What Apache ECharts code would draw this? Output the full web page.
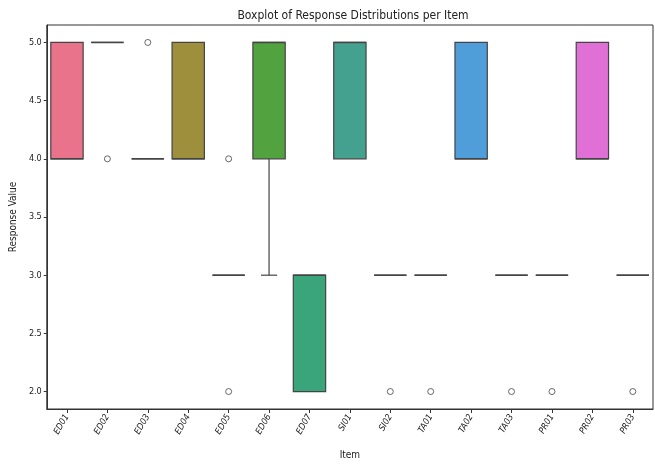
<!DOCTYPE html>
<html>
<head>
<meta charset="utf-8">
<script src="https://cdn.jsdelivr.net/npm/echarts@6/dist/echarts.min.js"></script>
<style>html,body{margin:0;padding:0;background:#fff;}#c{width:655px;height:465px;}</style>
</head>
<body>
<div id="c"></div>
<script>
var categories = ['ED01','ED02','ED03','ED04','ED05','ED06','ED07','SI01','SI02','TA01','TA02','TA03','PR01','PR02','PR03'];
var whiskerLow  = [4, 5, 4, 4, 3, 3, 2, 4, 3, 3, 4, 3, 3, 4, 3];
var q1          = [4, 5, 4, 4, 3, 4, 2, 4, 3, 3, 4, 3, 3, 4, 3];
var median      = [4, 5, 4, 4, 3, 5, 3, 5, 3, 3, 4, 3, 3, 4, 3];
var q3          = [5, 5, 4, 5, 3, 5, 3, 5, 3, 3, 5, 3, 3, 5, 3];
var whiskerHigh = [5, 5, 4, 5, 3, 5, 3, 5, 3, 3, 5, 3, 3, 5, 3];
var outliers = [['ED02',4],['ED03',5],['ED05',4],['ED05',2],['SI02',2],['TA01',2],['TA03',2],['PR01',2],['PR03',2]];
var colors = ['#e8738b','#e07b50','#c98b3f','#9e8f3c','#85993a','#52a33f','#3aa57a','#44a08f','#46a0a5','#48a0bb','#4f9ed9','#8c8ee0','#b283e0','#e070d6','#e472b0'];
var yTicks = [2.0, 2.5, 3.0, 3.5, 4.0, 4.5, 5.0];

var font = "'DejaVu Sans Condensed','Liberation Sans Narrow','DejaVu Sans',sans-serif";
var lineCol = '#444444';

var boxData = categories.map(function(c, i){
  return [i, whiskerLow[i], q1[i], median[i], q3[i], whiskerHigh[i]];
});

function renderBox(params, api){
  var i = api.value(0);
  var wl = api.value(1), a = api.value(2), m = api.value(3), b = api.value(4), wh = api.value(5);
  var bw = api.size([1, 0])[0] * 0.8;
  var pA = api.coord([i, a]);
  var pB = api.coord([i, b]);
  var pM = api.coord([i, m]);
  var pL = api.coord([i, wl]);
  var pH = api.coord([i, wh]);
  var x = pA[0];
  var ls = {stroke: lineCol, lineWidth: 1.2};
  var children = [];
  children.push({type:'rect', shape:{x: x - bw/2, y: pB[1], width: bw, height: pA[1] - pB[1]},
    style:{fill: colors[params.dataIndex], stroke: lineCol, lineWidth: 1.2}});
  if (wl < a) {
    children.push({type:'line', shape:{x1:x, y1:pA[1], x2:x, y2:pL[1]}, style: ls});
    children.push({type:'line', shape:{x1:x-bw/4, y1:pL[1], x2:x+bw/4, y2:pL[1]}, style: ls});
  }
  if (wh > b) {
    children.push({type:'line', shape:{x1:x, y1:pB[1], x2:x, y2:pH[1]}, style: ls});
    children.push({type:'line', shape:{x1:x-bw/4, y1:pH[1], x2:x+bw/4, y2:pH[1]}, style: ls});
  }
  children.push({type:'line', shape:{x1:x-bw/2, y1:pM[1], x2:x+bw/2, y2:pM[1]}, style:{stroke: lineCol, lineWidth: 1.6}});
  return {type:'group', children: children};
}

var chart = echarts.init(document.getElementById('c'), null, {renderer:'canvas'});
chart.setOption({
  animation: false,
  backgroundColor: '#fff',
  title: {text: 'Boxplot of Response Distributions per Item', left: 348, top: 5, textAlign: 'center',
    textStyle: {fontFamily: font, fontSize: 12, fontWeight: 'normal', color: '#222'}},
  grid: {left: 43, right: 2, top: 25, bottom: 51, show: true, borderColor: '#333', borderWidth: 1},
  xAxis: {
    type: 'category', data: categories, boundaryGap: true,
    name: 'Item', nameLocation: 'middle', nameGap: 41,
    nameTextStyle: {fontFamily: font, fontSize: 10, color: '#222'},
    axisLine: {show: true, lineStyle: {color: '#333', width: 1}},
    axisTick: {show: true, alignWithLabel: true, length: 4, lineStyle: {color: '#333'}},
    axisLabel: {rotate: 60, fontFamily: font, fontSize: 9, color: '#222', margin: 6, fontStyle: 'italic'},
    splitLine: {show: false}
  },
  yAxis: {
    type: 'value', min: 1.85, max: 5.15,
    name: 'Response Value', nameLocation: 'middle', nameGap: 21, nameRotate: 90,
    nameTextStyle: {fontFamily: font, fontSize: 10, color: '#222'},
    axisLine: {show: true, lineStyle: {color: '#333', width: 1}},
    axisTick: {show: true, length: 3, customValues: yTicks, lineStyle: {color: '#333'}},
    axisLabel: {customValues: yTicks, fontFamily: font, fontSize: 9, color: '#222', margin: 5,
      formatter: function(v){ return Number(v).toFixed(1); }},
    splitLine: {show: false}
  },
  series: [
    {type: 'custom', renderItem: renderBox, data: boxData, encode: {x: 0, y: [1,2,3,4,5]}, z: 2},
    {type: 'scatter', data: outliers, symbol: 'circle', symbolSize: 6,
      itemStyle: {color: '#fff', borderColor: '#444', borderWidth: 1}, z: 3}
  ]
});
</script>
</body>
</html>
